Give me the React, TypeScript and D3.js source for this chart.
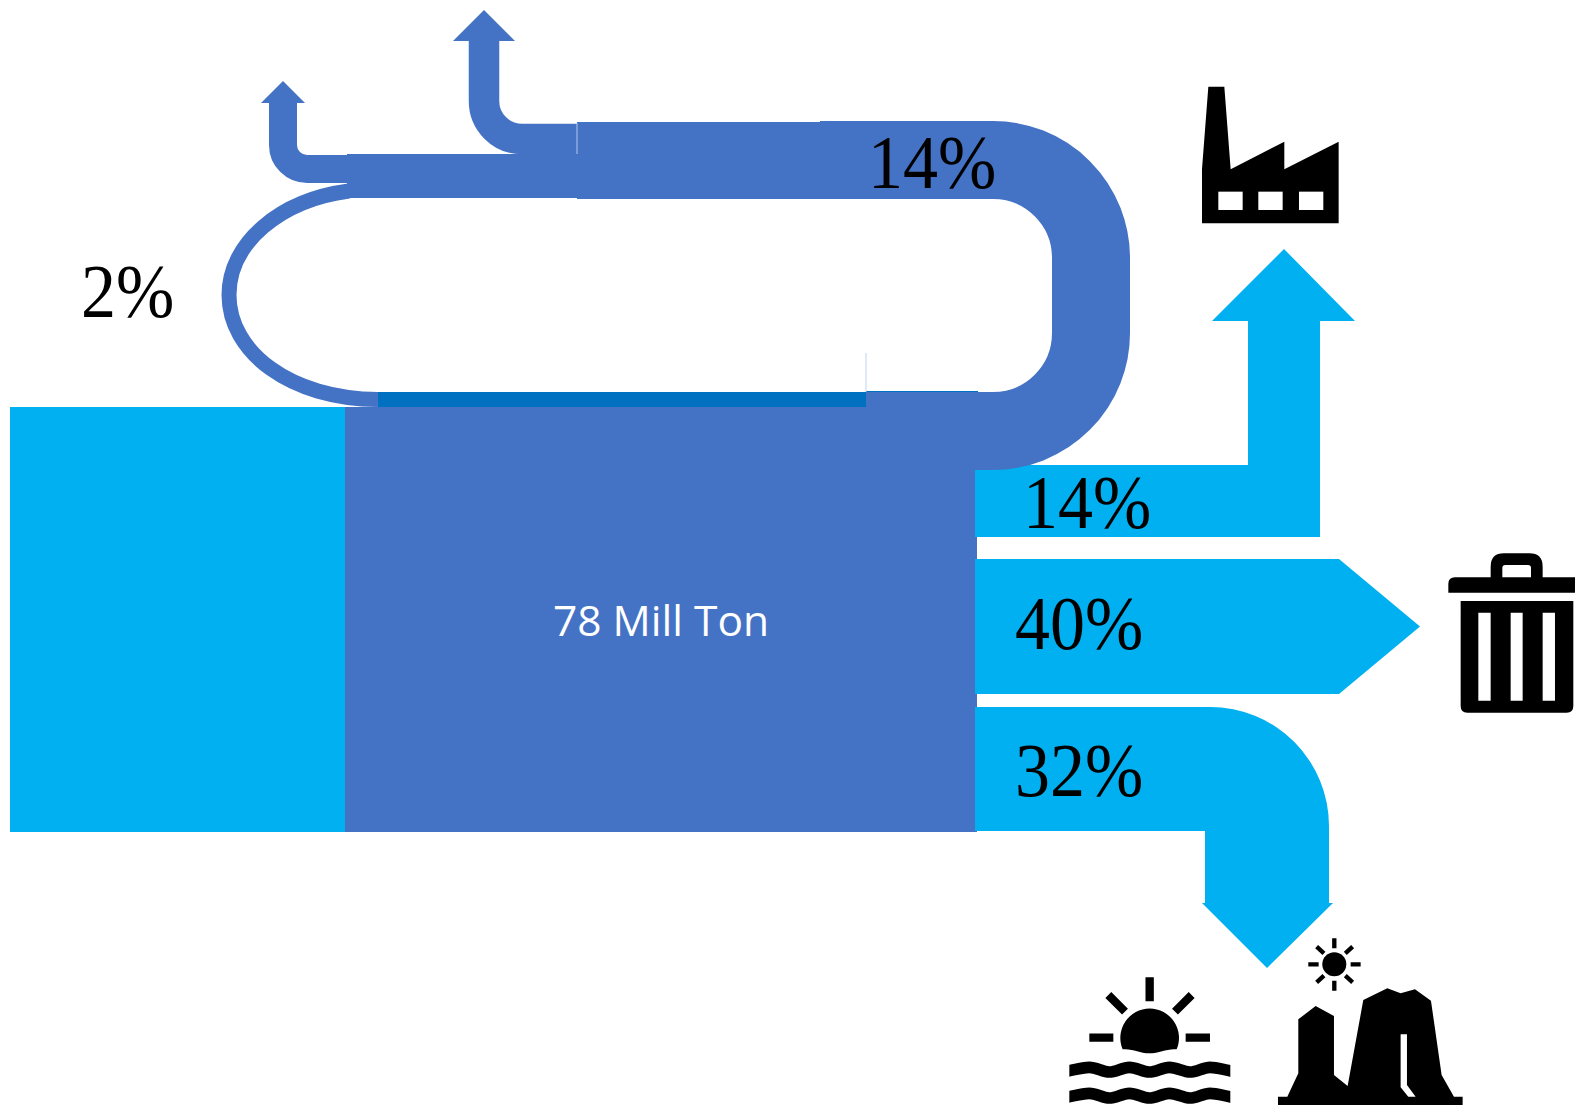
import React from "react";
import * as d3 from "d3";

// Mass flow shares shown on the diagram
const totalLabel = "78 Mill Ton";
const totalMass = [78];
const recycleShare = [2];
const loopShare = [14];
const outflowShares = [14, 40, 32];

// Band thickness for each labelled share
const bandThickness = d3.scaleLinear().domain([2, 14, 32, 40]).range([15, 72, 124, 135]);
const blockHeight = d3.scaleLinear().domain([0, 78]).range([0, 425]);

const CYAN = "#00B0F0";
const BLUE = "#4472C4";
const DEEP = "#0070C0";
const SERIF = "'Liberation Serif', serif";

const poly = (pts: number[][]) => d3.line()(pts as [number, number][]) + "Z";

function curve(build: (p: d3.Path) => void) {
  const p = d3.path();
  build(p);
  return p.toString();
}

// Percent label, slightly taller than wide
function Pct({ x, y, value, size = 70 }: { x: number; y: number; value: number; size?: number }) {
  return (
    <text
      transform={`translate(${x},${y}) scale(1,1.08)`}
      fontFamily={SERIF}
      fontSize={size}
      fill="#000"
    >
      {value}%
    </text>
  );
}

function Factory() {
  return (
    <g transform="translate(1180,70) scale(0.3333)">
      <path
        fill="#000"
        d="M85,50H133L152,298L313,215V298L476,215V460H66V298Z"
      />
      <rect x={115} y={365} width={73} height={55} fill="#fff" />
      <rect x={235} y={365} width={73} height={55} fill="#fff" />
      <rect x={357} y={365} width={73} height={55} fill="#fff" />
    </g>
  );
}

function Bin() {
  return (
    <g transform="translate(1430,540) scale(0.3333)">
      <path
        fill="#000"
        fillRule="evenodd"
        d="M182,112V80Q182,40 222,40H298Q338,40 338,80V112H435V158H55V132Q55,112 75,112ZM217,112H303V84Q303,75 294,75H226Q217,75 217,84Z"
      />
      <path
        fill="#000"
        fillRule="evenodd"
        d="M92,183H430V498Q430,518 410,518H112Q92,518 92,498ZM145,218V482H182V218ZM242,218V482H278V218ZM338,218V482H375V218Z"
      />
    </g>
  );
}

function SeaSunset() {
  const wave = (y: number) =>
    `M40,${y + 14}C78,${y + 6} 98,${y} 118,${y}C140,${y} 158,${y + 14} 178,${y + 14}` +
    `C198,${y + 14} 218,${y} 238,${y}C260,${y} 278,${y + 14} 298,${y + 14}` +
    `C318,${y + 14} 338,${y} 358,${y}C380,${y} 400,${y + 14} 420,${y + 14}` +
    `C440,${y + 14} 460,${y} 480,${y}C502,${y} 522,${y + 8} 560,${y + 14}`;
  return (
    <g transform="translate(1050,930) scale(0.3333)" stroke="#000" fill="none">
      <clipPath id="sea-edge">
        <rect x={58} y={380} width={483} height={150} />
      </clipPath>
      <path
        stroke="none"
        fill="#000"
        d="M218,358A88,88 0 1 1 380,358C350,355 330,370 298,370C268,370 248,355 218,358Z"
      />
      <path strokeWidth={25} d="M299,142V214M118,323H190M407,323H480M175,195L225,245M425,195L375,245" />
      <g clipPath="url(#sea-edge)">
        <path strokeWidth={35} d={wave(412)} />
        <path strokeWidth={35} d={wave(490)} />
      </g>
    </g>
  );
}

function Buttes() {
  return (
    <g transform="translate(1050,930) scale(0.3333)">
      <circle cx={853} cy={103} r={36} fill="#000" />
      <path
        stroke="#000"
        strokeWidth={13}
        fill="none"
        d="M853,25V55M853,152V182M775,103H806M902,103H932M800,50L822,70M908,50L886,70M800,157L822,137M908,157L886,137"
      />
      <path
        fill="#000"
        d="M745,268L797,228L852,258V435L893,468L940,210L1012,175L1052,190L1095,178L1143,212L1175,435L1212,500H1238V525H684V500H712L745,430Z"
      />
      <path fill="#fff" d="M1052,313H1071V465L1097,500H1075L1052,472Z" />
    </g>
  );
}

export default function App() {
  const [share1, share2, share3] = outflowShares;
  const t1 = bandThickness(share1);
  const t2 = bandThickness(share2);
  const t3 = bandThickness(share3);
  const loopWidth = bandThickness(loopShare[0]) + 6;
  const ringWidth = bandThickness(recycleShare[0]);

  const blockTop = 407;
  const blockBottom = blockTop + blockHeight(totalMass[0]);

  // Outflow to industry: band turns upward into an arrow
  const y1Bottom = 537;
  const x1Right = 1320;
  const up = poly([
    [975, y1Bottom - t1],
    [x1Right - t1, y1Bottom - t1],
    [x1Right - t1, 321],
    [1212, 321],
    [1284, 249],
    [1355, 321],
    [x1Right, 321],
    [x1Right, y1Bottom],
    [975, y1Bottom],
  ]);

  // Outflow to waste: straight pentagon arrow
  const y2Top = 559;
  const straight = poly([
    [975, y2Top],
    [1339, y2Top],
    [1420, y2Top + t2 / 2],
    [1339, y2Top + t2],
    [975, y2Top + t2],
  ]);

  // Outflow to the environment: band bends downward
  const y3Top = 707;
  const xStemR = 1329;
  const xStemL = xStemR - t3;
  const down = curve((p) => {
    p.moveTo(975, y3Top);
    p.lineTo(1210, y3Top);
    p.arcTo(xStemR, y3Top, xStemR, y3Top + 119, 119);
    p.lineTo(xStemR, 903);
    p.lineTo(1333, 903);
    p.lineTo(1267, 968);
    p.lineTo(1202, 903);
    p.lineTo(xStemL, 903);
    p.lineTo(xStemL, y3Top + t3);
    p.lineTo(975, y3Top + t3);
    p.closePath();
  });

  // Internal recirculation band
  const loop = curve((p) => {
    p.moveTo(866, 431);
    p.lineTo(993, 431);
    p.arcTo(1091, 431, 1091, 333, 98);
    p.lineTo(1091, 258);
    p.arcTo(1091, 160, 993, 160, 98);
    p.lineTo(820, 160);
  });

  const branchLarge = curve((p) => {
    p.moveTo(578, 139);
    p.lineTo(522, 139);
    p.arcTo(484, 139, 484, 101, 38);
    p.lineTo(484, 40);
  });
  const branchSmall = curve((p) => {
    p.moveTo(348, 169);
    p.lineTo(307, 169);
    p.arcTo(283, 169, 283, 145, 24);
    p.lineTo(283, 102);
  });

  return (
    <svg
      width={1575}
      height={1106}
      viewBox="0 0 1575 1106"
      style={{ position: "absolute", left: 0, top: 0, display: "block", background: "#fff" }}
    >
      <rect x={10} y={blockTop} width={340} height={blockBottom - blockTop} fill={CYAN} />
      <path
        d="M378,399.5C290,399 229,352 229,295C229,243 280,200 349,191"
        fill="none"
        stroke={BLUE}
        strokeWidth={ringWidth}
      />
      <rect x={378} y={392} width={488} height={16} fill={DEEP} />
      <rect x={866} y={391} width={112} height={3} fill={DEEP} />
      <rect x={345} y={blockTop} width={632} height={blockBottom - blockTop} fill={BLUE} />
      <rect x={866} y={393} width={112} height={20} fill={BLUE} />
      <line x1={866} x2={866} y1={353} y2={392} stroke="#c5d2ec" strokeWidth={1} />

      <path d={up} fill={CYAN} />
      <path d={straight} fill={CYAN} />
      <path d={down} fill={CYAN} />

      <path d={loop} fill="none" stroke={BLUE} strokeWidth={loopWidth} />
      <rect x={577} y={122} width={244} height={77} fill={BLUE} />
      <rect x={347} y={154} width={231} height={44} fill={BLUE} />
      <path d={branchLarge} fill="none" stroke={BLUE} strokeWidth={30.5} />
      <path d={poly([[453, 41], [484, 10], [515, 41]])} fill={BLUE} />
      <path d={branchSmall} fill="none" stroke={BLUE} strokeWidth={28} />
      <path d={poly([[261, 103], [283, 81], [305, 103]])} fill={BLUE} />
      <line x1={577} x2={577} y1={123} y2={154} stroke="#b7c8e8" strokeWidth={1} />

      <text
        x={661}
        y={636}
        textAnchor="middle"
        fontFamily="'Open Sans', sans-serif"
        fontSize={42.5}
        fill="#fff"
      >
        {totalLabel}
      </text>

      <Pct x={868} y={188} value={loopShare[0]} />
      <Pct x={81} y={317} value={recycleShare[0]} />
      <Pct x={1023} y={528} value={share1} />
      <Pct x={1015} y={649} value={share2} />
      <Pct x={1015} y={796} value={share3} />

      <Factory />
      <Bin />
      <SeaSunset />
      <Buttes />
    </svg>
  );
}
